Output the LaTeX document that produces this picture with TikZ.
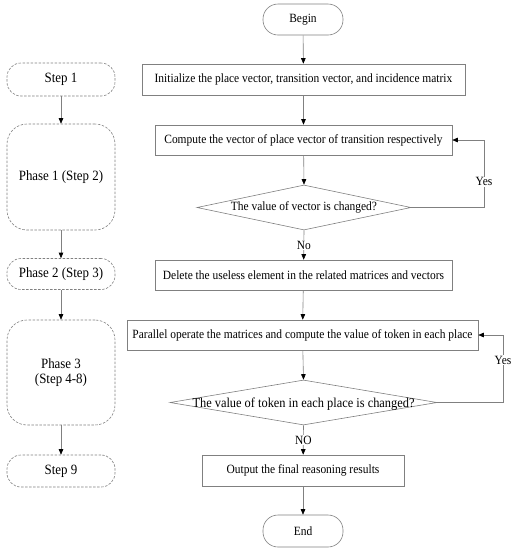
\documentclass[tikz,border=0pt]{standalone}
\usepackage{fontspec}
\setmainfont[FakeStretch=0.91]{Liberation Serif}
\usetikzlibrary{shapes.geometric,arrows.meta}
\definecolor{linegray}{RGB}{128,128,128}
\tikzset{
  base/.style={draw=linegray, line width=0.6pt, inner sep=0pt, text=black, align=center},
  flowbox/.style={base, rectangle, font=\fontsize{12.6}{15}\selectfont},
  term/.style={flowbox, rounded corners=15pt},
  sidebox/.style={base, rectangle, dashed, dash pattern=on 2.5pt off 1.5pt, font=\fontsize{14.2}{15.5}\selectfont},
  dia/.style={base, diamond},
  lbl/.style={fill=white, inner sep=1pt, text=black, font=\fontsize{12.6}{15}\selectfont},
  arr/.style={draw=linegray, line width=0.6pt, -{Triangle[length=5.5pt,width=4.5pt,color=black]}},
  ln/.style={draw=linegray, line width=0.6pt}
}
\begin{document}
\begin{tikzpicture}[x=1pt,y=-1pt]
\useasboundingbox (0,0) rectangle (513,550);
% left column
\node[sidebox, rounded corners=14pt, minimum width=108pt, minimum height=33pt] (s1) at (61,79.5) {Step 1};
\node[sidebox, rounded corners=20pt, minimum width=108pt, minimum height=106pt] (p1) at (61,177) {Phase 1 (Step 2)};
\node[sidebox, rounded corners=14pt, minimum width=108pt, minimum height=31pt] (p2) at (61,274) {Phase 2 (Step 3)};
\node[sidebox, rounded corners=20pt, minimum width=108pt, minimum height=105pt] (p3) at (61,372.5) {Phase 3\\(Step 4-8)};
\node[sidebox, rounded corners=14pt, minimum width=108pt, minimum height=32pt] (s9) at (61,471) {Step 9};
\draw[arr] (s1) -- (p1);
\draw[arr] (p1) -- (p2);
\draw[arr] (p2) -- (p3);
\draw[arr] (p3) -- (s9);
% main flow
\node[term, minimum width=80pt, minimum height=31pt] (begin) at (303,19.5) {Begin};
\node[flowbox, minimum width=323pt, minimum height=31pt] (init) at (303.5,79.5) {Initialize the place vector, transition vector, and incidence matrix};
\node[flowbox, minimum width=297pt, minimum height=30pt] (comp) at (303.5,140) {Compute the vector of place vector of transition respectively};
\node[dia, minimum width=214pt, minimum height=45pt] (d1) at (304,207.5) {};
\node[font=\fontsize{12.6}{15}\selectfont, inner sep=0pt] (d1t) at (304,207.5) {The value of vector is changed?};
\node[flowbox, minimum width=297pt, minimum height=30pt] (del) at (303.5,275) {Delete the useless element in the related matrices and vectors};
\node[flowbox, minimum width=351pt, minimum height=30pt] (par) at (302.5,335) {Parallel operate the matrices and compute the value of token in each place};
\node[dia, minimum width=267pt, minimum height=45pt] (d2) at (303.5,402.5) {};
\node[font=\fontsize{13.6}{16}\selectfont, inner sep=0pt] (d2t) at (303.5,404) {The value of token in each place is changed?};
\node[flowbox, minimum width=202pt, minimum height=31pt] (out) at (303,470.5) {Output the final reasoning results};
\node[term, minimum width=80pt, minimum height=32pt] (end) at (303,531) {End};
\coordinate (y1a) at (484,207.5);
\coordinate (y1b) at (484,140);
\coordinate (y2a) at (503,402.5);
\coordinate (y2b) at (503,335);
\draw[arr] (begin) -- (init);
\draw[arr] (init) -- (comp);
\draw[arr] (comp) -- (d1.north);
\draw[arr] (d1.south) -- node[lbl, pos=0.5] (no1) {No} (del);
\draw[arr] (d1.east) -- (y1a) -- node[lbl, pos=0.38] (yes1) {Yes} (y1b) -- (comp.east);
\draw[arr] (del) -- (par);
\draw[arr] (par) -- (d2.north);
\draw[arr] (d2.south) -- node[lbl, pos=0.5] (no2) {NO} (out);
\draw[arr] (d2.east) -- (y2a) -- node[lbl, pos=0.63] (yes2) {Yes} (y2b) -- (par.east);
\draw[arr] (out) -- (end);
\end{tikzpicture}
\end{document}
